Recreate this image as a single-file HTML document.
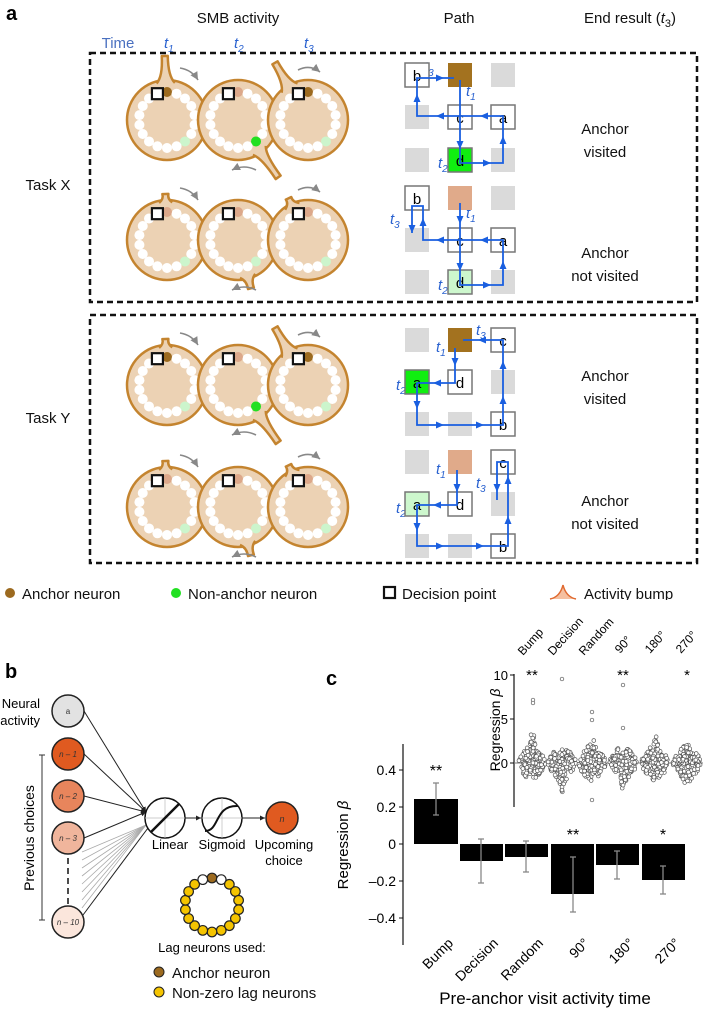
<!DOCTYPE html>
<html><head><meta charset="utf-8">
<style>
html,body{margin:0;padding:0;background:#fff;}
svg{display:block;font-family:"Liberation Sans",sans-serif;}
.lbl{font-size:15px;fill:#111;}
.bl{fill:#2a62d0;font-style:italic;font-size:15px;}
</style></head>
<body>
<svg id="s" width="703" height="1013" viewBox="0 0 703 1013" xmlns="http://www.w3.org/2000/svg">
<defs>
<marker id="ah" markerWidth="6" markerHeight="6" refX="5" refY="3" orient="auto"><path d="M0,0.5 L5,3 L0,5.5 z" fill="#222"/></marker>
<marker id="ahg" markerWidth="6" markerHeight="6" refX="5" refY="3" orient="auto"><path d="M0,0.5 L5,3 L0,5.5 z" fill="#888"/></marker>
</defs>
<g id="dyn"></g>
<!-- panel a text -->
<text x="6" y="20" font-size="20" font-weight="bold">a</text>
<text x="238" y="23" class="lbl" font-size="16" text-anchor="middle">SMB activity</text>
<text x="459" y="23" class="lbl" font-size="16" text-anchor="middle">Path</text>
<text x="630" y="23" class="lbl" font-size="16" text-anchor="middle">End result (<tspan font-style="italic">t</tspan><tspan font-size="11" dy="4">3</tspan><tspan dy="-4">)</tspan></text>
<text x="118" y="48" fill="#4a70c0" font-size="15" text-anchor="middle">Time</text>
<text x="164" y="48" class="bl" fill="#4a70c0">t<tspan font-size="10" dy="4">1</tspan></text>
<text x="234" y="48" class="bl">t<tspan font-size="10" dy="4">2</tspan></text>
<text x="304" y="48" class="bl">t<tspan font-size="10" dy="4">3</tspan></text>
<rect x="90" y="53" width="607" height="249" fill="none" stroke="#111" stroke-width="2.5" stroke-dasharray="6,4"/>
<rect x="90" y="315" width="607" height="248" fill="none" stroke="#111" stroke-width="2.5" stroke-dasharray="6,4"/>
<text x="48" y="190" class="lbl" text-anchor="middle">Task X</text>
<text x="48" y="423" class="lbl" text-anchor="middle">Task Y</text>
<g class="lbl" text-anchor="middle">
<text x="605" y="134">Anchor</text><text x="605" y="157">visited</text>
<text x="605" y="258">Anchor</text><text x="605" y="281">not visited</text>
<text x="605" y="381">Anchor</text><text x="605" y="404">visited</text>
<text x="605" y="506">Anchor</text><text x="605" y="529">not visited</text>
</g>
<!-- legend -->
<circle cx="10" cy="593" r="5" fill="#9c6a1f"/>
<text x="22" y="599" class="lbl">Anchor neuron</text>
<circle cx="176" cy="593" r="5" fill="#22e022"/>
<text x="188" y="599" class="lbl">Non-anchor neuron</text>
<rect x="384" y="587" width="11" height="11" fill="#fff" stroke="#111" stroke-width="2.2"/>
<text x="402" y="599" class="lbl">Decision point</text>
<path d="M550,599 Q560,597 563,585 Q566,597 576,599" fill="#f5c0a0" stroke="#e06a30" stroke-width="1.5"/>
<text x="584" y="599" class="lbl">Activity bump</text>

<!-- panel b -->
<text x="5" y="678" font-size="20" font-weight="bold">b</text>
<text x="40" y="708" font-size="13" text-anchor="end">Neural</text>
<text x="40" y="725" font-size="13" text-anchor="end">activity</text>
<line x1="42" y1="755" x2="42" y2="920" stroke="#333" stroke-width="1"/>
<line x1="39" y1="755" x2="45" y2="755" stroke="#333"/><line x1="39" y1="920" x2="45" y2="920" stroke="#333"/>
<text transform="translate(34,838) rotate(-90)" font-size="14" text-anchor="middle">Previous choices</text>
<line x1="68" y1="858" x2="68" y2="905" stroke="#111" stroke-width="1.5" stroke-dasharray="6,4"/>
<g id="blines"></g>
<circle cx="68" cy="711" r="16" fill="#e2e2e2" stroke="#222" stroke-width="1.5"/>
<circle cx="68" cy="754" r="16" fill="#e05a20" stroke="#222" stroke-width="1.5"/>
<circle cx="68" cy="796" r="16" fill="#e8855c" stroke="#222" stroke-width="1.5"/>
<circle cx="68" cy="838" r="16" fill="#f0b59c" stroke="#222" stroke-width="1.5"/>
<circle cx="68" cy="922" r="16" fill="#fbe6dc" stroke="#222" stroke-width="1.5"/>
<g font-size="8" text-anchor="middle" font-style="italic" fill="#333">
<text x="68" y="714" font-style="normal">a</text>
<text x="68" y="757">n – 1</text><text x="68" y="799">n – 2</text><text x="68" y="841">n – 3</text><text x="68" y="925">n – 10</text>
</g>
<circle cx="165" cy="818" r="20" fill="#fff" stroke="#111" stroke-width="1.5"/>
<line x1="145" y1="818" x2="185" y2="818" stroke="#bbb" stroke-width="0.7"/><line x1="165" y1="798" x2="165" y2="838" stroke="#bbb" stroke-width="0.7"/>
<line x1="151" y1="832" x2="179" y2="804" stroke="#111" stroke-width="2.5"/>
<line x1="185" y1="818" x2="201" y2="818" stroke="#222" marker-end="url(#ah)"/>
<circle cx="222" cy="818" r="20" fill="#fff" stroke="#111" stroke-width="1.5"/>
<line x1="202" y1="818" x2="242" y2="818" stroke="#bbb" stroke-width="0.7"/><line x1="222" y1="798" x2="222" y2="838" stroke="#bbb" stroke-width="0.7"/>
<path d="M205,831 C220,831 214,805 238,806" fill="none" stroke="#111" stroke-width="2"/>
<line x1="242" y1="818" x2="265" y2="818" stroke="#222" marker-end="url(#ah)"/>
<circle cx="282" cy="818" r="16" fill="#e05a20" stroke="#222" stroke-width="1.5"/>
<text x="282" y="822" font-size="9" font-style="italic" text-anchor="middle" fill="#333">n</text>
<g font-size="13" text-anchor="middle">
<text x="170" y="849">Linear</text><text x="222" y="849">Sigmoid</text><text x="284" y="849">Upcoming</text><text x="284" y="865">choice</text>
<text x="212" y="952">Lag neurons used:</text>
</g>
<g id="lag"></g>
<circle cx="159" cy="972" r="5" fill="#9c6a1f" stroke="#222"/>
<text x="172" y="978" class="lbl">Anchor neuron</text>
<circle cx="159" cy="992" r="5" fill="#f5c400" stroke="#222"/>
<text x="172" y="998" class="lbl">Non-zero lag neurons</text>

<!-- panel c -->
<text x="326" y="685" font-size="20" font-weight="bold">c</text>
<text transform="translate(348,845) rotate(-90)" font-size="15" text-anchor="middle">Regression <tspan font-style="italic">β</tspan></text>
<line x1="403" y1="744" x2="403" y2="945" stroke="#111" stroke-width="1.2"/>
<g font-size="14" text-anchor="end">
<text x="396" y="775">0.4</text><text x="396" y="812">0.2</text><text x="396" y="849">0</text><text x="396" y="886">–0.2</text><text x="396" y="923">–0.4</text>
</g>
<g stroke="#111"><line x1="399" y1="770" x2="403" y2="770"/><line x1="399" y1="807" x2="403" y2="807"/><line x1="399" y1="844" x2="403" y2="844"/><line x1="399" y1="881" x2="403" y2="881"/><line x1="399" y1="918" x2="403" y2="918"/></g>
<g fill="#000">
<rect x="414" y="799" width="44" height="45"/>
<rect x="460" y="844" width="43" height="17"/>
<rect x="505" y="844" width="43" height="13"/>
<rect x="551" y="844" width="43" height="50"/>
<rect x="596" y="844" width="43" height="21"/>
<rect x="642" y="844" width="43" height="36"/>
</g>
<g stroke="#888" stroke-width="1.3">
<line x1="436" y1="783" x2="436" y2="815"/><line x1="433" y1="783" x2="439" y2="783"/><line x1="433" y1="815" x2="439" y2="815"/>
<line x1="481" y1="839" x2="481" y2="883"/><line x1="478" y1="839" x2="484" y2="839"/><line x1="478" y1="883" x2="484" y2="883"/>
<line x1="526" y1="841" x2="526" y2="872"/><line x1="523" y1="841" x2="529" y2="841"/><line x1="523" y1="872" x2="529" y2="872"/>
<line x1="573" y1="857" x2="573" y2="912"/><line x1="570" y1="857" x2="576" y2="857"/><line x1="570" y1="912" x2="576" y2="912"/>
<line x1="617" y1="851" x2="617" y2="879"/><line x1="614" y1="851" x2="620" y2="851"/><line x1="614" y1="879" x2="620" y2="879"/>
<line x1="663" y1="866" x2="663" y2="894"/><line x1="660" y1="866" x2="666" y2="866"/><line x1="660" y1="894" x2="666" y2="894"/>
</g>
<g font-size="16" text-anchor="middle">
<text x="436" y="776">**</text><text x="573" y="840">**</text><text x="663" y="840">*</text>
</g>
<g font-size="14" text-anchor="end">
<text transform="translate(454,944) rotate(-45)">Bump</text>
<text transform="translate(499,944) rotate(-45)">Decision</text>
<text transform="translate(544,944) rotate(-45)">Random</text>
<text transform="translate(590,944) rotate(-45)">90°</text>
<text transform="translate(635,944) rotate(-45)">180°</text>
<text transform="translate(681,944) rotate(-45)">270°</text>
</g>
<text x="545" y="1004" font-size="17" text-anchor="middle">Pre-anchor visit activity time</text>

<!-- inset -->
<rect x="480" y="600" width="223" height="215" fill="#fff"/>
<text transform="translate(500,730) rotate(-90)" font-size="14" text-anchor="middle">Regression <tspan font-style="italic">β</tspan></text>
<line x1="514" y1="674" x2="514" y2="807" stroke="#111" stroke-width="1.2"/>
<g stroke="#111"><line x1="510" y1="675" x2="514" y2="675"/><line x1="510" y1="719" x2="514" y2="719"/><line x1="510" y1="763" x2="514" y2="763"/></g>
<g font-size="13" text-anchor="end"><text x="508" y="680">10</text><text x="508" y="724">5</text><text x="508" y="768">0</text></g>
<line x1="514" y1="763" x2="703" y2="763" stroke="#777" stroke-width="1"/>
<g id="scat"></g>
<g font-size="15" text-anchor="middle"><text x="532" y="680">**</text><text x="623" y="680">**</text><text x="687" y="680">*</text></g>
<g font-size="12">
<text transform="translate(523,656) rotate(-48)">Bump</text>
<text transform="translate(553,656) rotate(-48)">Decision</text>
<text transform="translate(584,656) rotate(-48)">Random</text>
<text transform="translate(620,654) rotate(-48)">90°</text>
<text transform="translate(650,654) rotate(-48)">180°</text>
<text transform="translate(681,654) rotate(-48)">270°</text>
</g>

<!-- path t labels -->
<g class="bl">
<text x="424" y="72">t<tspan font-size="10" dy="4">3</tspan></text>
<text x="466" y="96">t<tspan font-size="10" dy="4">1</tspan></text>
<text x="438" y="168">t<tspan font-size="10" dy="4">2</tspan></text>
<text x="466" y="218">t<tspan font-size="10" dy="4">1</tspan></text>
<text x="390" y="224">t<tspan font-size="10" dy="4">3</tspan></text>
<text x="438" y="290">t<tspan font-size="10" dy="4">2</tspan></text>
<text x="436" y="352">t<tspan font-size="10" dy="4">1</tspan></text>
<text x="476" y="335">t<tspan font-size="10" dy="4">3</tspan></text>
<text x="396" y="390">t<tspan font-size="10" dy="4">2</tspan></text>
<text x="436" y="474">t<tspan font-size="10" dy="4">1</tspan></text>
<text x="476" y="488">t<tspan font-size="10" dy="4">3</tspan></text>
<text x="396" y="513">t<tspan font-size="10" dy="4">2</tspan></text>
</g>
<g id="cells" font-size="15" text-anchor="middle"></g>
</svg>
<script>
var NS="http://www.w3.org/2000/svg";
function el(p,t,a){var e=document.createElementNS(NS,t);for(var k in a)e.setAttribute(k,a[k]);p.appendChild(e);return e;}
var dyn=document.getElementById('dyn');
var TAN="#ecd2b4",BR="#c4842f";
function pol(cx,cy,r,a){a=a*Math.PI/180;return [cx+r*Math.cos(a),cy+r*Math.sin(a)];}
function ring(cx,cy,bump,anch,green){
  var R=40;
  el(dyn,'circle',{cx:cx,cy:cy,r:R,fill:TAN,stroke:BR,'stroke-width':2.5});
  if(bump){var a=bump[0],L=bump[1],w=bump[2];
    var b1=pol(cx,cy,R-2,a-w),b2=pol(cx,cy,R-2,a+w),tip=pol(cx,cy,R+L,a);
    var c1=pol(cx,cy,R+L*0.15,a-w*0.25),c2=pol(cx,cy,R+L*0.15,a+w*0.25);
    var tl=pol(tip[0],tip[1],3,a-90),tr=pol(tip[0],tip[1],3,a+90);
    el(dyn,'path',{d:'M'+b1+' Q'+c1+' '+tl+' Q'+tip+' '+tr+' Q'+c2+' '+b2,fill:TAN,stroke:BR,'stroke-width':2.5,'stroke-linejoin':'round'});
  }
  for(var i=0;i<18;i++){var ang=-90+i*20;var p=pol(cx,cy,28,ang);
    if(i==17){el(dyn,'rect',{x:p[0]-5.5,y:p[1]-5.5,width:11,height:11,fill:'#fff',stroke:'#111','stroke-width':2.2});continue;}
    var f='#fff';if(i==0)f=anch;if(i==7)f=green;
    el(dyn,'circle',{cx:p[0],cy:p[1],r:5,fill:f});}
}
var AN="#9c6a1f",SA="#dca88a",G="#22e022",LG="#ccf5cc";
function curved(x1,y1,qx,qy,x2,y2){el(dyn,'path',{d:'M'+x1+','+y1+' Q'+qx+','+qy+' '+x2+','+y2,fill:'none',stroke:'#888','stroke-width':1.6,'marker-end':'url(#ahg)'});}
function row(y,b1,b2,b3,a1,a2,a3,g1,g2,g3){
  ring(167,y,b1,a1,g1);ring(238,y,b2,a2,g2);ring(308,y,b3,a3,g3);
  curved(180,y-52,192,y-50,198,y-40);curved(298,y-50,310,y-56,320,y-48);curved(256,y+50,244,y+44,232,y+50);
}
row(120,[-92,24,14],[55,30,12],[-120,26,14],AN,SA,AN,LG,G,LG);
row(240,[-92,6,10],[75,10,12],[-115,6,12],SA,SA,SA,LG,LG,LG);
row(385,[-92,6,10],[55,30,12],[-120,26,14],AN,SA,AN,LG,G,LG);
row(507,[-92,6,10],[75,10,12],[-115,6,12],SA,SA,SA,LG,LG,LG);
// path cells
var C=[417,460,503],cells=document.getElementById('cells');
function grid(rows,spec){
  for(var r=0;r<3;r++)for(var c=0;c<3;c++){var s=spec[r*3+c],x=C[c]-12,y=rows[r]-12;
    if(s=='g')el(cells,'rect',{x:x,y:y,width:24,height:24,fill:'#dadada'});
    else if(s=='A')el(cells,'rect',{x:x,y:y,width:24,height:24,fill:'#a3721f'});
    else if(s=='S')el(cells,'rect',{x:x,y:y,width:24,height:24,fill:'#e0aa8a'});
    else{var f='#fff',t=s;if(s[0]=='G'){f='#10ee10';t=s[1];}if(s[0]=='L'){f='#cdf7cd';t=s[1];}
      el(cells,'rect',{x:x,y:y,width:24,height:24,fill:f,stroke:'#777','stroke-width':1.5});
      var tx=el(cells,'text',{x:C[c],y:rows[r]+6});tx.textContent=t;}
  }}
grid([75,117,160],['b','A','g','g','c','a','g','Gd','g']);
grid([198,240,282],['b','S','g','g','c','a','g','Ld','g']);
grid([340,382,424],['g','A','c','Ga','d','g','g','g','b']);
grid([462,504,546],['g','S','c','La','d','g','g','g','b']);
var BL="#1a5fe0";
function pl(pts){el(cells,'polyline',{points:pts.join(' '),fill:'none',stroke:BL,'stroke-width':1.8});}
function ar(x,y,d){var a={r:0,d:90,l:180,u:-90}[d]*Math.PI/180;
  function P(dx,dy){return (x+dx*Math.cos(a)-dy*Math.sin(a))+','+(y+dx*Math.sin(a)+dy*Math.cos(a));}
  el(cells,'path',{d:'M'+P(4,0)+' L'+P(-4,-3.5)+' L'+P(-4,3.5)+'z',fill:BL});}
pl(['460,80','460,163','503,163','503,116','417,116','417,78','454,78']);
ar(460,145,'d');ar(487,163,'r');ar(503,140,'u');ar(484,116,'l');ar(440,116,'l');ar(417,98,'u');ar(440,78,'r');
pl(['460,203','460,285','503,285','503,240','423,240','423,206','412,206','412,233']);
ar(460,220,'d');ar(460,267,'d');ar(487,285,'r');ar(503,265,'u');ar(484,240,'l');ar(440,240,'l');ar(423,222,'u');ar(412,229,'d');
pl(['455,348','455,383','417,383','417,425','503,425','503,340','463,340']);
ar(455,362,'d');ar(437,383,'l');ar(417,405,'d');ar(440,425,'r');ar(480,425,'r');ar(503,400,'u');ar(503,365,'u');ar(482,340,'l');
pl(['457,470','457,505','417,505','417,546','508,546','508,462','497,462','497,500']);
ar(457,488,'d');ar(437,505,'l');ar(417,527,'d');ar(440,546,'r');ar(480,546,'r');ar(508,520,'u');ar(508,480,'u');ar(497,488,'d');
// panel b lines
var bl=document.getElementById('blines');
[[84,711],[84,754],[84,796],[84,838]].forEach(function(p){el(bl,'line',{x1:p[0],y1:p[1],x2:146,y2:812,stroke:'#222','stroke-width':1,'marker-end':'url(#ah)'});});
el(bl,'line',{x1:83,y1:915,x2:148,y2:828,stroke:'#222','stroke-width':1});
for(var i=0;i<8;i++){var y=852+i*8;el(bl,'line',{x1:82,y1:y,x2:146,y2:825,stroke:'#aaa','stroke-width':0.8});}
var lag=document.getElementById('lag');
for(var i=0;i<18;i++){var p=pol(212,905,27,-90+i*20);var f='#f5c400';if(i==0)f='#9c6a1f';if(i==1||i==17)f='#fff';
  el(lag,'circle',{cx:p[0],cy:p[1],r:4.8,fill:f,stroke:'#222','stroke-width':1.2});}
// scatter
var seed=7;function rnd(){seed=(seed*16807)%2147483647;return seed/2147483647;}
var sc=document.getElementById('scat'),xs=[532,562,592,623,655,687];
var skew=[0.25,-0.25,0.1,-0.15,0.1,0];
xs.forEach(function(cx,g){
  for(var i=0;i<150;i++){var u=rnd()+rnd()+rnd()-1.5;var v=u*1.9+skew[g]*u*u*2;
    var dens=Math.max(0.15,Math.exp(-v*v/3));var x=cx+(rnd()*2-1)*14*dens;var y=763-v*8.8;
    el(sc,'circle',{cx:x,cy:y,r:1.9,fill:'#fff',stroke:'#555','stroke-width':0.7});}
});
[[533,700],[533,703],[562,679],[592,712],[592,720],[623,685],[623,728],[562,790],[592,800]].forEach(function(p){el(sc,'circle',{cx:p[0],cy:p[1],r:1.8,fill:'#fff',stroke:'#555','stroke-width':0.7});});
</script>
</body></html>
